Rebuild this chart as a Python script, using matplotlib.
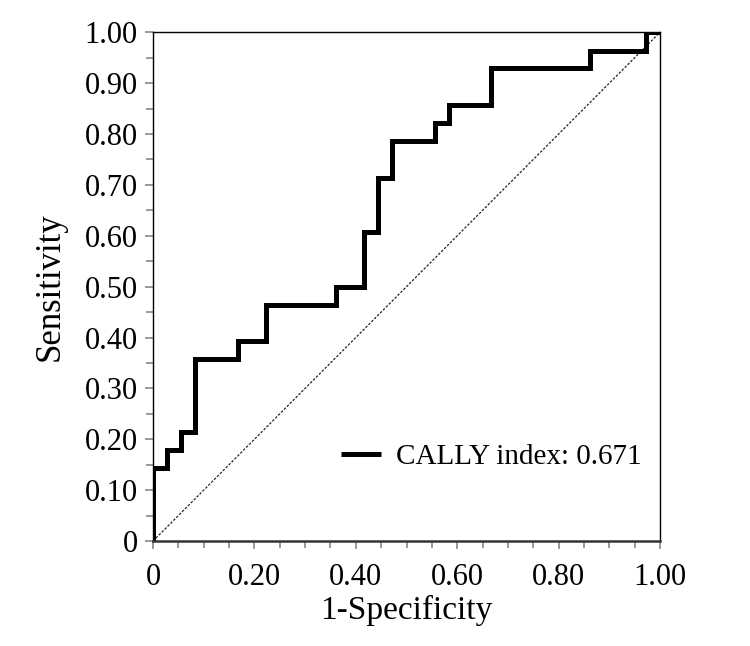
import numpy as np
import matplotlib
matplotlib.use("Agg")
import matplotlib.pyplot as plt
from matplotlib.ticker import MultipleLocator, FuncFormatter

# ROC curve (step corners, "post" style)
fpr = [0.0, 0.0, 0.028, 0.056, 0.083, 0.167, 0.222, 0.361, 0.417,
       0.444, 0.472, 0.556, 0.583, 0.667, 0.861, 0.972, 1.0]
tpr = [0.0, 0.143, 0.179, 0.214, 0.357, 0.393, 0.464, 0.500, 0.607,
       0.714, 0.786, 0.821, 0.857, 0.929, 0.964, 1.0, 1.0]
legend_label = "CALLY index: 0.671"

plt.rcParams['font.family'] = ['Liberation Serif', 'DejaVu Serif']

fig = plt.figure(figsize=(7.5, 6.46), dpi=100)
ax = fig.add_axes([0.204, 0.1625, 0.676, 0.7875])

# reference diagonal
ax.plot([0, 1], [0, 1], color='#222222', lw=0.9, dashes=(2.0, 1.3))

# ROC step curve
ax.step(fpr, tpr, where='post', color='black', lw=3.6,
        solid_joinstyle='miter', solid_capstyle='butt', label=legend_label)

ax.set_xlim(0, 1)
ax.set_ylim(0, 1)

def fmt(v, pos):
    return "0" if abs(v) < 1e-9 else f"{v:.2f}"

ax.xaxis.set_major_locator(MultipleLocator(0.2))
ax.xaxis.set_minor_locator(MultipleLocator(0.05))
ax.yaxis.set_major_locator(MultipleLocator(0.1))
ax.yaxis.set_minor_locator(MultipleLocator(0.05))
ax.xaxis.set_major_formatter(FuncFormatter(fmt))
ax.yaxis.set_major_formatter(FuncFormatter(fmt))

ax.tick_params(which='both', direction='out', color='#888888', labelsize=22,
               labelcolor='black')
ax.tick_params(which='major', length=6, width=1.2)
ax.tick_params(which='minor', length=5, width=1.2)
ax.tick_params(axis='x', which='major', pad=10)
ax.tick_params(axis='y', which='major', pad=5)

for side in ['top', 'right', 'left']:
    ax.spines[side].set_linewidth(1.0)
ax.spines['bottom'].set_linewidth(1.8)
ax.spines['bottom'].set_color('#333333')

ax.set_xlabel("1-Specificity", fontsize=24, labelpad=2)
ax.set_ylabel("Sensitivity", fontsize=25, labelpad=13)

ax.legend(loc='center right', bbox_to_anchor=(1.004, 0.166), frameon=False,
          fontsize=21, handlelength=1.4, handletextpad=0.5, borderpad=0.2)

fig.savefig("out.png", dpi=100)
